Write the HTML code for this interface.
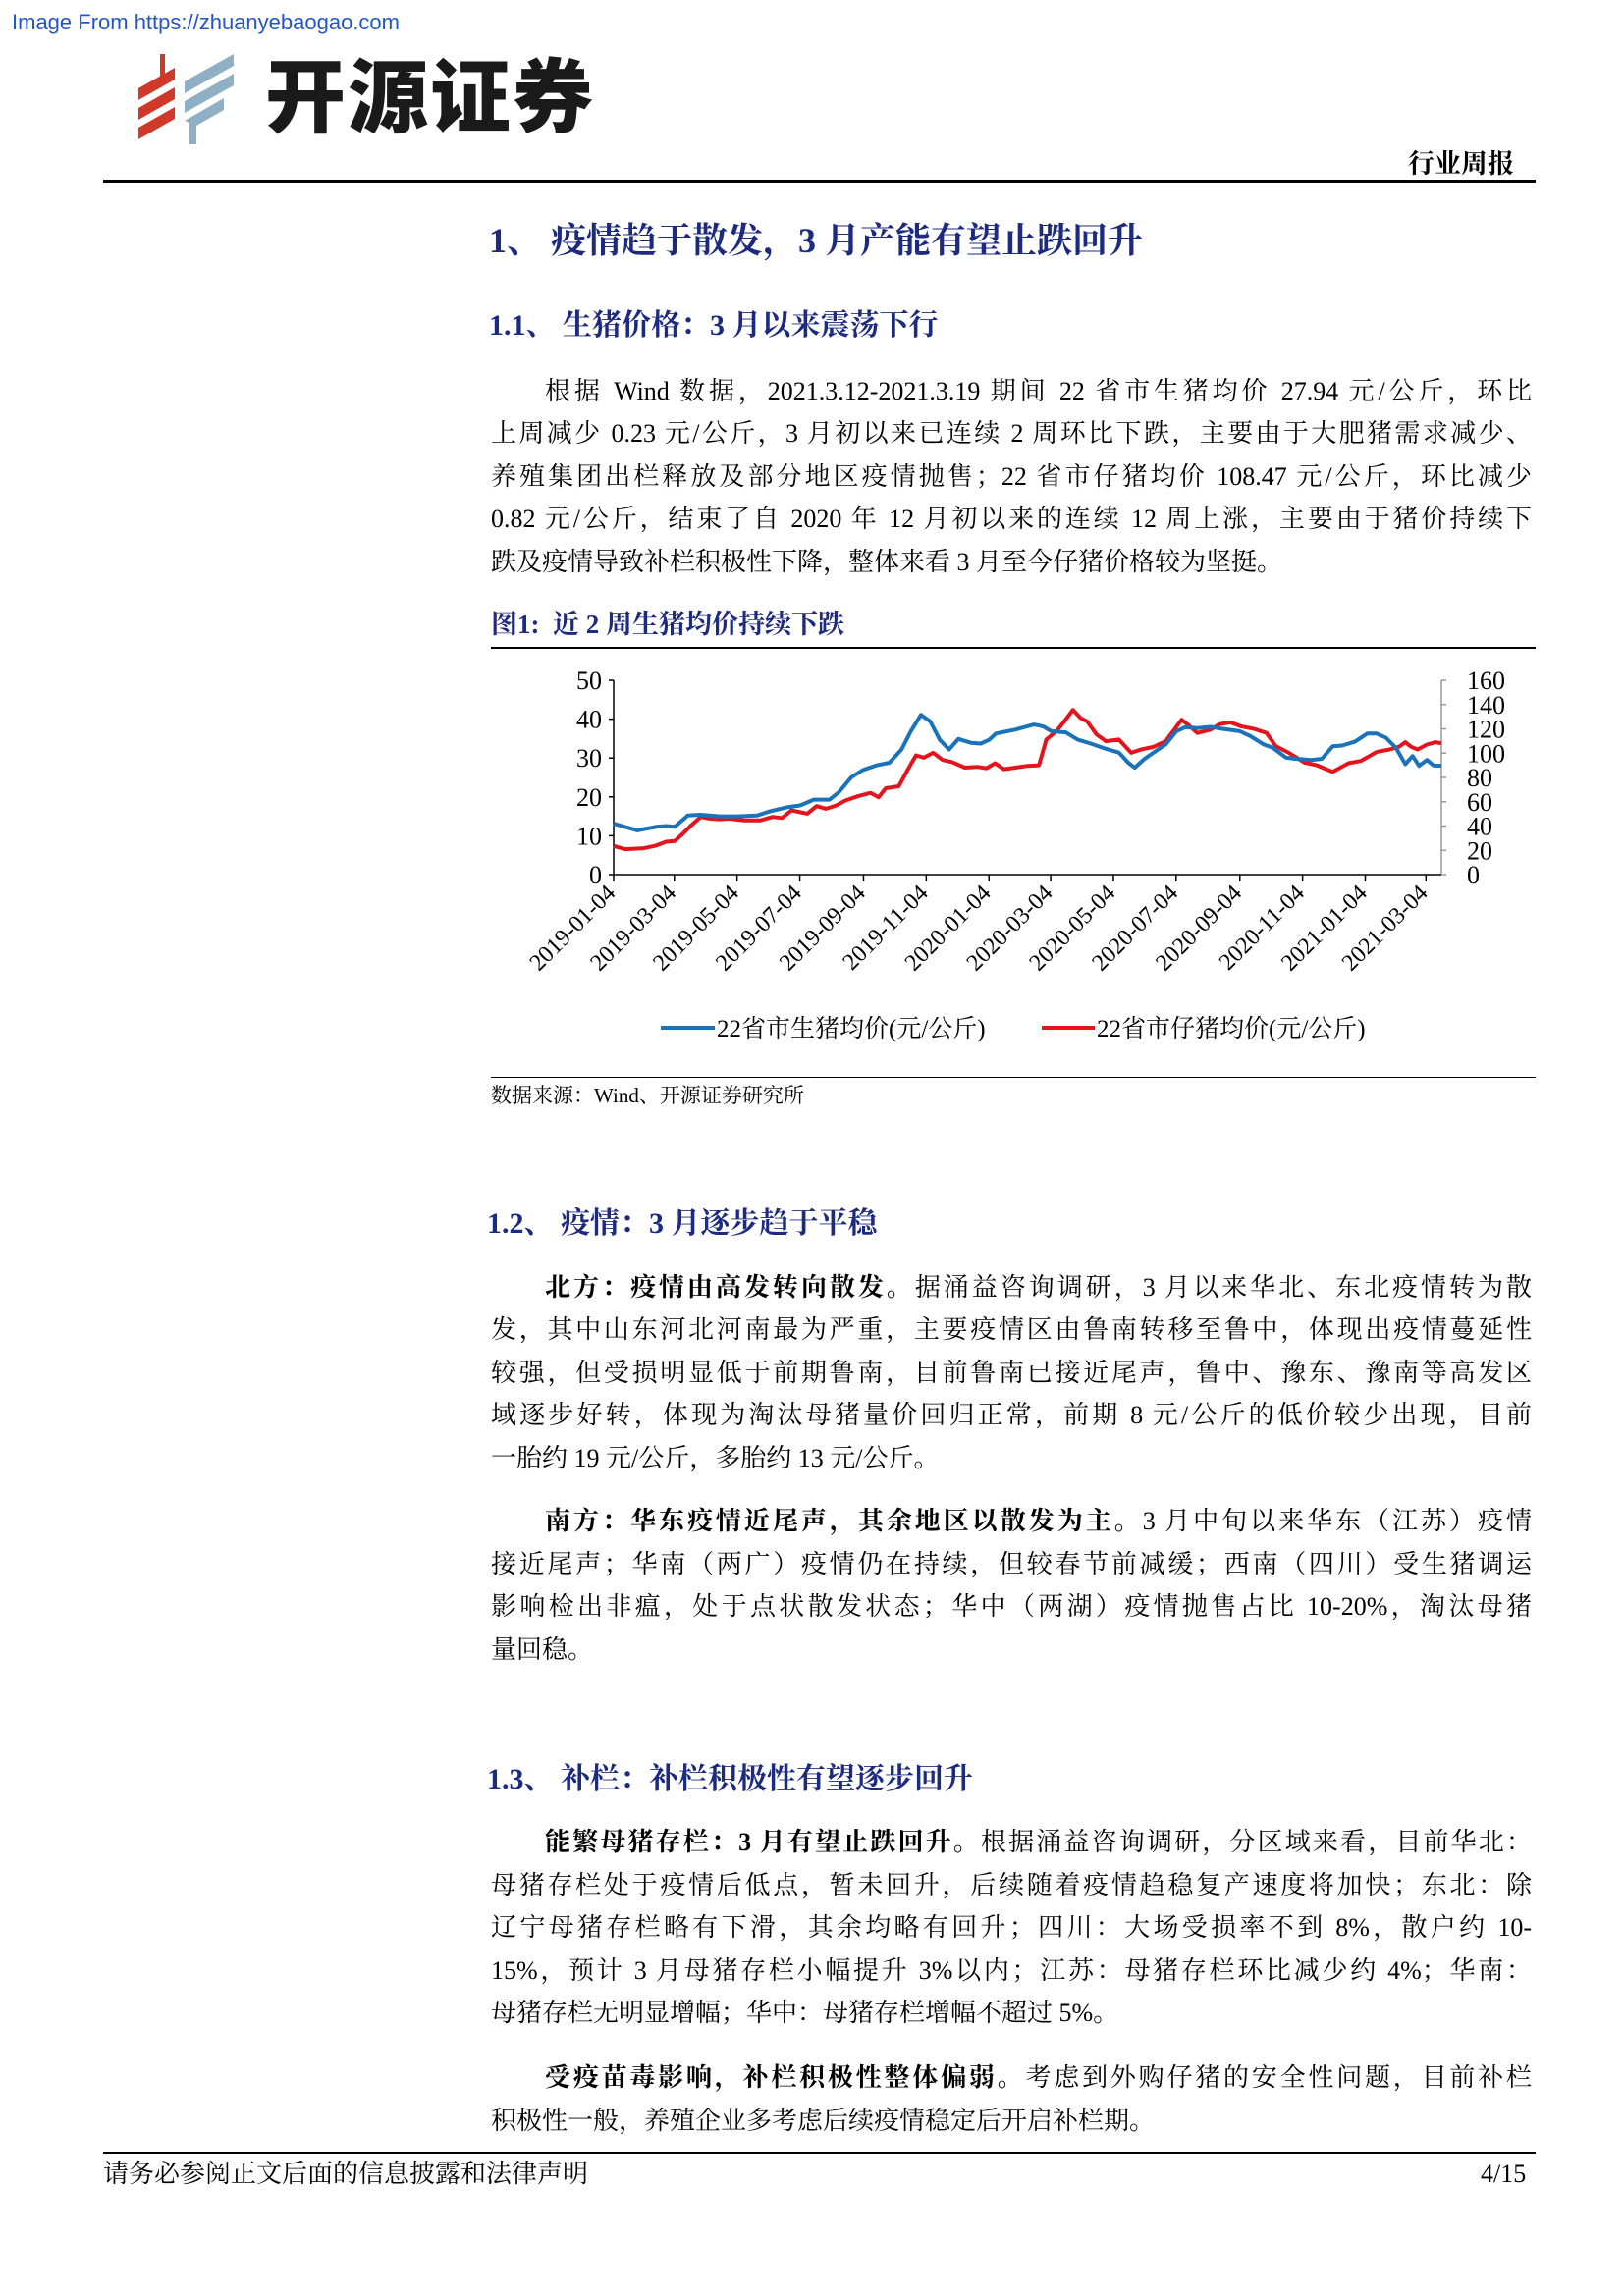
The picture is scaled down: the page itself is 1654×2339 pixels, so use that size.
<!DOCTYPE html>
<html><head><meta charset="utf-8">
<style>
body{margin:0;background:#fff;}
#page{position:relative;width:1654px;height:2339px;overflow:hidden;background:#fff;font-family:"Liberation Serif","Noto Serif CJK SC",serif;color:#000;}
.abs{position:absolute;white-space:nowrap;}
.ln{position:absolute;font-size:26px;line-height:36px;white-space:nowrap;}
.j{text-align:justify;text-align-last:justify;white-space:normal;height:36px;overflow:hidden;}
.h{color:#1c2a80;font-weight:bold;}
b{font-weight:bold;}
</style></head><body>
<div id="page">
<div class="abs" style="left:12px;top:10px;font-family:'Liberation Sans',sans-serif;font-size:22px;color:#2255cc;">Image From https://zhuanyebaogao.com</div>

<svg class="abs" style="left:138px;top:55px" width="110" height="95" viewBox="0 0 110 95">
<g fill="#d0382a"><polygon points="25,0 30,0 30,28 25,32"/><polygon points="3,35 40,14 40,26 3,47"/><polygon points="3,55 40,34 40,46 3,67"/><polygon points="3,75 40,54 40,66 3,87"/></g>
<g fill="#8fb0c4"><polygon points="50,28 100,0 100,12 50,40"/><polygon points="50,48 100,20 100,32 50,60"/><polygon points="50,68 90,45 90,57 62,73 62,92 55,92 55,70"/></g>
</svg>
<div class="abs" style="left:270px;top:48px;font-family:'Noto Sans CJK SC',sans-serif;font-weight:900;font-size:82px;line-height:90px;color:#1a1a1a;letter-spacing:2px;">开源证券</div>
<div class="abs" style="left:1434px;top:145px;font-size:27px;font-weight:bold;">行业周报</div>
<div class="abs" style="left:105px;top:183px;width:1459px;height:3px;background:#000"></div>

<div class="abs h" style="left:498px;top:217px;font-size:36px;">1、 疫情趋于散发，3 月产能有望止跌回升</div>
<div class="abs h" style="left:498px;top:306px;font-size:30px;">1.1、 生猪价格：3 月以来震荡下行</div>

<div>
<div class="ln j" style="left:555px;top:381px;width:1005px;">根据 Wind 数据，2021.3.12-2021.3.19 期间 22 省市生猪均价 27.94 元/公斤，环比</div>
<div class="ln j" style="left:500px;top:424px;width:1060px;">上周减少 0.23 元/公斤，3 月初以来已连续 2 周环比下跌，主要由于大肥猪需求减少、</div>
<div class="ln j" style="left:500px;top:468px;width:1060px;">养殖集团出栏释放及部分地区疫情抛售；22 省市仔猪均价 108.47 元/公斤，环比减少</div>
<div class="ln j" style="left:500px;top:511px;width:1060px;">0.82 元/公斤，结束了自 2020 年 12 月初以来的连续 12 周上涨，主要由于猪价持续下</div>
<div class="ln" style="left:500px;top:555px;">跌及疫情导致补栏积极性下降，整体来看 3 月至今仔猪价格较为坚挺。</div>
</div>

<div class="abs h" style="left:500px;top:614px;font-size:27px;">图1:&nbsp; 近 2 周生猪均价持续下跌</div>
<div class="abs" style="left:500px;top:659px;width:1064px;height:2px;background:#000"></div>

<svg id="chart" class="abs" style="left:0;top:658px" width="1654" height="440"></svg>

<div class="abs" style="left:500px;top:1097px;width:1064px;height:1px;background:#000"></div>
<div class="abs" style="left:500px;top:1100px;font-size:21px;">数据来源：Wind、开源证券研究所</div>

<div class="abs h" style="left:496px;top:1221px;font-size:30px;">1.2、 疫情：3 月逐步趋于平稳</div>
<div>
<div class="ln j" style="left:555px;top:1294px;width:1005px;"><b>北方：疫情由高发转向散发。</b>据涌益咨询调研，3 月以来华北、东北疫情转为散</div>
<div class="ln j" style="left:500px;top:1337px;width:1060px;">发，其中山东河北河南最为严重，主要疫情区由鲁南转移至鲁中，体现出疫情蔓延性</div>
<div class="ln j" style="left:500px;top:1381px;width:1060px;">较强，但受损明显低于前期鲁南，目前鲁南已接近尾声，鲁中、豫东、豫南等高发区</div>
<div class="ln j" style="left:500px;top:1424px;width:1060px;">域逐步好转，体现为淘汰母猪量价回归正常，前期 8 元/公斤的低价较少出现，目前</div>
<div class="ln" style="left:500px;top:1468px;">一胎约 19 元/公斤，多胎约 13 元/公斤。</div>
</div>
<div>
<div class="ln j" style="left:555px;top:1532px;width:1005px;"><b>南方：华东疫情近尾声，其余地区以散发为主。</b>3 月中旬以来华东（江苏）疫情</div>
<div class="ln j" style="left:500px;top:1576px;width:1060px;">接近尾声；华南（两广）疫情仍在持续，但较春节前减缓；西南（四川）受生猪调运</div>
<div class="ln j" style="left:500px;top:1619px;width:1060px;">影响检出非瘟，处于点状散发状态；华中（两湖）疫情抛售占比 10-20%，淘汰母猪</div>
<div class="ln" style="left:500px;top:1663px;">量回稳。</div>
</div>

<div class="abs h" style="left:496px;top:1787px;font-size:30px;">1.3、 补栏：补栏积极性有望逐步回升</div>
<div>
<div class="ln j" style="left:555px;top:1859px;width:1005px;"><b>能繁母猪存栏：3 月有望止跌回升。</b>根据涌益咨询调研，分区域来看，目前华北：</div>
<div class="ln j" style="left:500px;top:1903px;width:1060px;">母猪存栏处于疫情后低点，暂未回升，后续随着疫情趋稳复产速度将加快；东北：除</div>
<div class="ln j" style="left:500px;top:1946px;width:1060px;">辽宁母猪存栏略有下滑，其余均略有回升；四川：大场受损率不到 8%，散户约 10-</div>
<div class="ln j" style="left:500px;top:1990px;width:1060px;">15%，预计 3 月母猪存栏小幅提升 3%以内；江苏：母猪存栏环比减少约 4%；华南：</div>
<div class="ln" style="left:500px;top:2033px;">母猪存栏无明显增幅；华中：母猪存栏增幅不超过 5%。</div>
</div>
<div>
<div class="ln j" style="left:555px;top:2099px;width:1005px;"><b>受疫苗毒影响，补栏积极性整体偏弱。</b>考虑到外购仔猪的安全性问题，目前补栏</div>
<div class="ln" style="left:500px;top:2143px;">积极性一般，养殖企业多考虑后续疫情稳定后开启补栏期。</div>
</div>

<div class="abs" style="left:105px;top:2192px;width:1459px;height:2px;background:#000"></div>
<div class="abs" style="left:105px;top:2200px;font-size:26px;line-height:30px;">请务必参阅正文后面的信息披露和法律声明</div>
<div class="abs" style="left:1508px;top:2200px;font-size:26px;line-height:30px;">4/15</div>
</div>

<script>
// weeks since 2019-01-04
const blueWeeks=[0,3.3,5.9,7.3,8.5,10.3,12.1,14.7,17.2,19.9,21.7,24.3,25.9,27.8,30,31.3,33,34.6,36.5,38.3,40,41.3,42.7,44,45.3,46.6,47.9,49.7,51,52.2,53.1,55.8,58.4,59.7,60.8,62.8,64.5,66.3,68,70.2,71.5,72.4,73.7,75,76.7,78.2,79.4,81.1,82.9,84.6,87,88.5,90.3,91.6,93.4,94.7,95.6,96.9,98.4,99.9,101.2,103,104.7,106,107.3,108.7,110,111,111.9,113,113.9,115];
const blueValues=[13.1,11.4,12.3,12.5,12.3,15.2,15.4,15,15,15.2,16.3,17.4,17.8,19.3,19.3,21.2,25,26.9,28.1,28.8,32.2,36.9,41.1,39.4,34.7,32.2,34.9,33.9,33.7,34.7,36.3,37.3,38.6,38.1,36.9,36.6,34.7,33.7,32.6,31.4,28.8,27.5,29.7,31.4,33.5,36.9,37.9,37.7,38,37.5,36.9,35.6,33.5,32.6,30.1,29.8,29.7,29.5,29.8,33,33.2,34.2,36.3,36.3,35.2,32.6,28.4,30.5,28,29.5,28.1,28];
const redWeeks=[0,1.6,4.2,5.9,7.3,8.5,9.4,10.8,12.1,13.4,14.7,16,18.2,20.4,22.1,23.4,24.7,26.9,28.2,29.5,30.9,32.2,33.9,35.7,36.8,37.8,39.6,40.9,42,43.1,44.4,45.7,47,48.8,50.5,51.8,53,54.2,55.8,57.5,59.1,60.1,61.5,62.6,63.8,64.9,65.8,67.1,68.4,70.2,71.9,73.3,75,76.7,78.9,79.8,81.1,82.9,84.2,85.7,87.2,89,90.7,92,93.8,96,97.7,99,99.9,102.1,103.8,106,107.8,109.1,110,110.8,111.7,113,114.2,115];
const redValues=[23.6,20.9,21.7,23.9,27.1,27.7,32.5,40.7,47.5,46.1,45.6,46.1,44.7,44.7,47.5,46.6,52.9,50.2,56.4,54.2,56.9,61,64.5,67.3,63.7,71.1,72.7,86.8,98.2,96.3,100.3,94.4,92.7,88.1,88.7,87.6,91.7,86.8,88.1,89.5,90,111.2,118,126.1,135.6,128.8,126.1,115.3,109.8,111.2,100.3,103,105.2,109.8,127.5,123.4,116.6,119.3,123.9,125.3,122,119.9,116.6,105.8,100.3,92.2,90,86.8,84.6,91.7,93.6,100.9,103,105.2,109,105.2,103,107.1,109,108];
const leftTicks=[0,10,20,30,40,50];
const rightTicks=[0,20,40,60,80,100,120,140,160];
const dateTicks=["2019-01-04","2019-03-04","2019-05-04","2019-07-04","2019-09-04","2019-11-04","2020-01-04","2020-03-04","2020-05-04","2020-07-04","2020-09-04","2020-11-04","2021-01-04","2021-03-04"];
const seriesNames=["22省市生猪均价(元/公斤)","22省市仔猪均价(元/公斤)"];

const svg=document.getElementById('chart');
const NS='http://www.w3.org/2000/svg';
const X0=625,X1=1468,Y0=233,Y1=35;
const xW=w=>X0+(X1-X0)*w/115;
const yL=v=>Y0-(Y0-Y1)*v/50;
const yR=v=>Y0-(Y0-Y1)*v/160;
const base=Date.UTC(2019,0,4);
const weekOf=s=>{const p=s.split('-');return (Date.UTC(+p[0],+p[1]-1,+p[2])-base)/86400000/7;};
function mk(tag,attrs){const e=document.createElementNS(NS,tag);for(const k in attrs)e.setAttribute(k,attrs[k]);svg.appendChild(e);return e;}
const font='"Liberation Serif","Noto Serif CJK SC",serif';

let e=mk('line',{x1:X0,y1:Y0,x2:X0,y2:Y1,stroke:'#000','stroke-width':1.5});


e=mk('line',{x1:X1,y1:Y0,x2:X1,y2:Y1,stroke:'#999','stroke-width':1.5});


e=mk('line',{x1:X0,y1:Y0,x2:X1,y2:Y0,stroke:'#000','stroke-width':1.5});



leftTicks.forEach(v=>{
  const y=yL(v);
  const t=mk('line',{x1:X0-5,y1:y,x2:X0,y2:y,stroke:'#000','stroke-width':1.5});
  
  
  const l=mk('text',{x:X0-12,y:y+9,'text-anchor':'end','font-size':26,'font-family':font});
  l.textContent=v;
  
  
});
rightTicks.forEach(v=>{
  const y=yR(v);
  const t=mk('line',{x1:X1,y1:y,x2:X1+5,y2:y,stroke:'#999','stroke-width':1.5});
  
  
  const l=mk('text',{x:X1+26,y:y+9,'font-size':26,'font-family':font});
  l.textContent=v;
  
  
});
dateTicks.forEach(d=>{
  const x=xW(weekOf(d));
  const t=mk('line',{x1:x,y1:Y0,x2:x,y2:Y0+7,stroke:'#000','stroke-width':1.5});
  
  
  const l=mk('text',{x:x+3,y:Y0+20,'text-anchor':'end','font-size':24,'font-family':font,transform:`rotate(-45 ${x+3} ${Y0+20})`});
  l.textContent=d;
  
  
});

const pts=(ws,vs,f)=>ws.map((w,i)=>xW(w).toFixed(1)+','+f(vs[i]).toFixed(1)).join(' ');
e=mk('polyline',{points:pts(redWeeks,redValues,yR),fill:'none',stroke:'#e3141c','stroke-width':4,'stroke-linejoin':'round'});


e=mk('polyline',{points:pts(blueWeeks,blueValues,yL),fill:'none',stroke:'#1a72bb','stroke-width':4,'stroke-linejoin':'round'});



const LY=389;
e=mk('line',{x1:673,y1:LY,x2:728,y2:LY,stroke:'#1a72bb','stroke-width':4});


e=mk('text',{x:730,y:LY+9,'font-size':25,'font-family':font});
e.textContent=seriesNames[0];


e=mk('line',{x1:1061,y1:LY,x2:1115,y2:LY,stroke:'#e3141c','stroke-width':4});


e=mk('text',{x:1117,y:LY+9,'font-size':25,'font-family':font});
e.textContent=seriesNames[1];


</script>
</body></html>
